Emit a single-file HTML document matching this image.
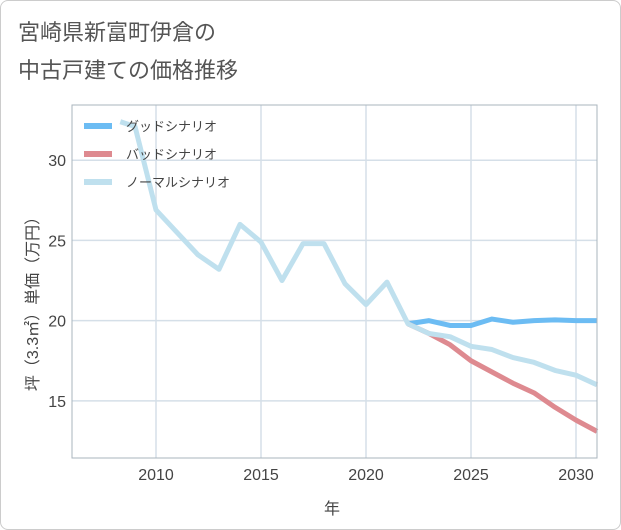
<!DOCTYPE html>
<html><head><meta charset="utf-8"><style>
body{margin:0;background:#fff;font-family:"Liberation Sans","Noto Sans CJK JP",sans-serif;}
.card{position:absolute;left:0;top:0;width:619px;height:528px;border:1px solid #ccc;border-radius:8px;background:#fff;}
</style></head><body>
<div class="card"></div>
<svg width="621" height="530" style="position:absolute;left:0;top:0">
<text x="18" y="40" font-size="22" fill="#555">宮崎県新富町伊倉の</text>
<text x="18" y="78" font-size="22" fill="#555">中古戸建ての価格推移</text>
<g id="grid"></g><g id="series"></g><g id="axes"></g>
<text x="332" y="514" font-size="16" fill="#444" text-anchor="middle">年</text>
<text transform="translate(38,300) rotate(-90)" font-size="16" fill="#444" text-anchor="middle">坪（3.3㎡）単価（万円）</text>
<g>
<line x1="84" y1="126" x2="112" y2="126" stroke="#6cbcf3" stroke-width="6"/>
<text x="126" y="131" font-size="13" fill="#444">グッドシナリオ</text>
<line x1="84" y1="154" x2="112" y2="154" stroke="#de8a90" stroke-width="6"/>
<text x="126" y="159" font-size="13" fill="#444">バッドシナリオ</text>
<line x1="84" y1="182" x2="112" y2="182" stroke="#bfe0ee" stroke-width="6"/>
<text x="126" y="187" font-size="13" fill="#444">ノーマルシナリオ</text>
</g>
</svg>
<script>
const normalYears=[2008.3,2009,2010,2011,2012,2013,2014,2015,2016,2017,2018,2019,2020,2021,2022,2023,2024,2025,2026,2027,2028,2029,2030,2031];
const normalValues=[32.4,32.1,26.9,25.5,24.1,23.2,26.0,24.9,22.5,24.8,24.8,22.3,21.0,22.4,19.8,19.2,19.0,18.4,18.2,17.7,17.4,16.9,16.6,16.0];
const forecastYears=[2022,2023,2024,2025,2026,2027,2028,2029,2030,2031];
const goodValues=[19.8,20.0,19.7,19.7,20.1,19.9,20.0,20.05,20.0,20.0];
const badValues=[19.8,19.2,18.5,17.5,16.8,16.1,15.5,14.6,13.8,13.1];
const xTicks=[2010,2015,2020,2025,2030];
const yTicks=[15,20,25,30];
const X0=72,X1=597,Y0=105,Y1=458,xmin=2006,xmax=2031,ymin=11.44,ymax=33.44;
const sx=v=>X0+(v-xmin)/(xmax-xmin)*(X1-X0);
const sy=v=>Y1-(v-ymin)/(ymax-ymin)*(Y1-Y0);
const NS='http://www.w3.org/2000/svg';
function mk(t,a,p){const e=document.createElementNS(NS,t);for(const k in a)e.setAttribute(k,a[k]);p.appendChild(e);return e;}
const g=document.getElementById('grid'),s=document.getElementById('series'),ax=document.getElementById('axes');
xTicks.forEach(t=>{const l=mk('line',{x1:sx(t),x2:sx(t),y1:Y0,y2:Y1,stroke:'#d5dfe8','stroke-width':1.5},g);


const tx=mk('text',{x:sx(t),y:Y1+22,'font-size':16,fill:'#444','text-anchor':'middle'},ax);tx.textContent=t;

});
yTicks.forEach(t=>{const l=mk('line',{x1:X0,x2:X1,y1:sy(t),y2:sy(t),stroke:'#d5dfe8','stroke-width':1.5},g);


const tx=mk('text',{x:X0-6,y:sy(t)+6,'font-size':16,fill:'#444','text-anchor':'end'},ax);tx.textContent=t;

});
const fr=mk('rect',{x:X0,y:Y0,width:X1-X0,height:Y1-Y0,fill:'none',stroke:'#aab4bd','stroke-width':1},ax);


function line(xs,ys,c,name){const p=mk('polyline',{points:xs.map((x,i)=>sx(x)+','+sy(ys[i])).join(' '),fill:'none',stroke:c,'stroke-width':5,'stroke-linejoin':'round'},s);

}
line(forecastYears,goodValues,'#6cbcf3','good-scenario-line');
line(forecastYears,badValues,'#de8a90','bad-scenario-line');
line(normalYears,normalValues,'#bfe0ee','normal-scenario-line');
</script>
</body></html>
